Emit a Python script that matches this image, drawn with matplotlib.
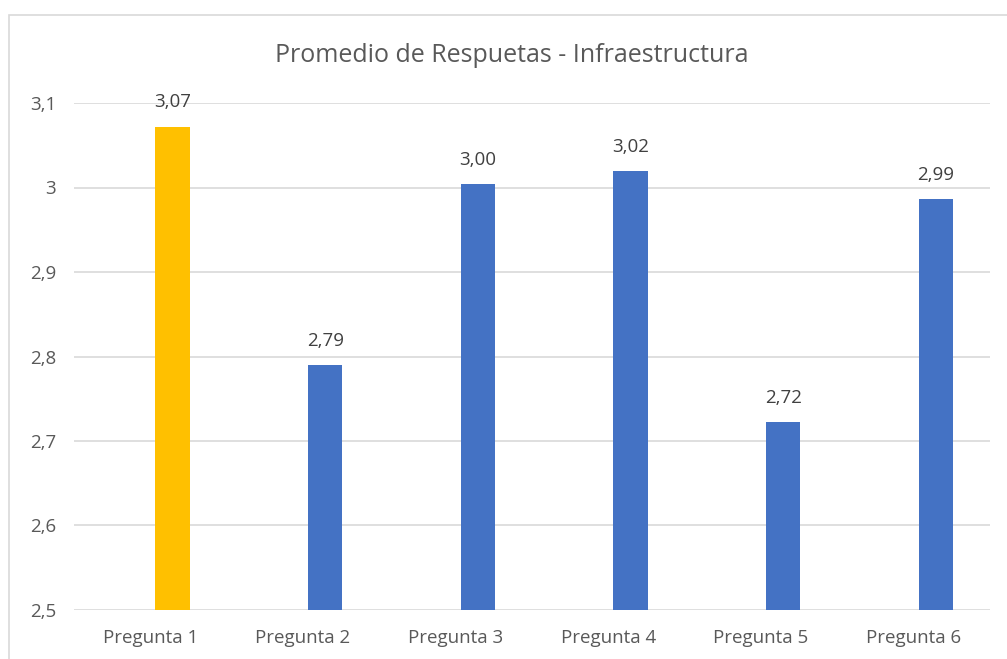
import matplotlib.pyplot as plt
from matplotlib.patches import Rectangle

# Data
preguntas = ['Pregunta 1', 'Pregunta 2', 'Pregunta 3', 'Pregunta 4', 'Pregunta 5', 'Pregunta 6']
promedios = [3.072, 2.790, 3.004, 3.019, 2.722, 2.986]
colores = ['#FFC000', '#4472C4', '#4472C4', '#4472C4', '#4472C4', '#4472C4']
yticks = [2.5, 2.6, 2.7, 2.8, 2.9, 3.0, 3.1]
ytick_labels = ['2,5', '2,6', '2,7', '2,8', '2,9', '3', '3,1']

plt.rcParams['font.family'] = ['Open Sans', 'DejaVu Sans']
txt = '#595959'

fig = plt.figure(figsize=(10.07, 6.59), dpi=100)
W, H = 1007, 659
ax = fig.add_axes([74 / W, (H - 610) / H, 916 / W, 507 / H])

x = list(range(len(preguntas)))
offset = 0.145  # bars sit right of the category centre (empty second series in the original)
xb = [xi + offset for xi in x]
ax.bar(xb, [v - 2.5 for v in promedios], bottom=2.5, width=0.225, color=colores, zorder=3)
for xi, v in zip(xb, promedios):
    ax.annotate(f'{v:.2f}'.replace('.', ','), (xi, v), xytext=(0, 11), textcoords='offset points',
                ha='center', va='bottom', fontsize=13.5, color='#404040')

ax.set_ylim(2.5, 3.1)
ax.set_xlim(-0.5, 5.5)
ax.set_yticks(yticks)
ax.set_yticklabels(ytick_labels, fontsize=13.5, color=txt)
ax.set_xticks(x)
ax.set_xticklabels(preguntas, fontsize=13.5, color=txt)
ax.tick_params(length=0)
ax.tick_params(axis='y', pad=13)
ax.tick_params(axis='x', pad=14)
ax.grid(axis='y', color='#D9D9D9', linewidth=1.2, zorder=0)
for s in ax.spines.values():
    s.set_visible(False)

fig.text(512 / W, 1 - 55 / H, 'Promedio de Respuetas - Infraestructura', ha='center', va='center',
         fontsize=18, color=txt)

# chart border
fig.patches.append(Rectangle((9 / W, -0.1), 1.2, 1.1 - 15 / H, transform=fig.transFigure,
                             fill=False, edgecolor='#D9D9D9', linewidth=1.2))

plt.savefig('out.png', dpi=100)
